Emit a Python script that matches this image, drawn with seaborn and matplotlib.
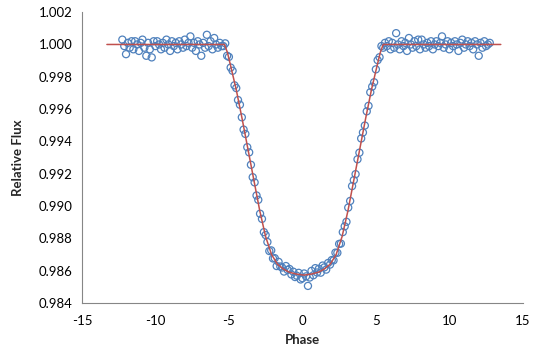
import matplotlib
matplotlib.use("Agg")
import matplotlib.pyplot as plt
import seaborn as sns
import pandas as pd

# ---- data ----
phase_left = [-12.25, -12.12, -12.0, -11.88, -11.75, -11.62, -11.5, -11.38, -11.25, -11.12,
              -11.0, -10.88, -10.75, -10.62, -10.5, -10.38, -10.25, -10.12, -10.0, -9.88,
              -9.75, -9.62, -9.5, -9.38, -9.25, -9.12, -9.0, -8.88, -8.75, -8.62,
              -8.5, -8.38, -8.25, -8.12, -8.0, -7.88, -7.75, -7.62, -7.5, -7.38,
              -7.25, -7.12, -7.0, -6.88, -6.75, -6.62, -6.5, -6.38, -6.25, -6.12,
              -6.0, -5.88, -5.75, -5.62, -5.5]
flux_left = [1.0003, 0.9999, 0.9994, 1.0001, 0.9998, 1.0002, 0.9997, 1.0002, 1.0000, 0.9996,
             1.0001, 1.0003, 0.9998, 0.9993, 1.0001, 0.9997, 0.9992, 1.0002, 0.9999, 1.0002,
             1.0000, 0.9997, 1.0001, 0.9998, 1.0003, 1.0000, 0.9996, 1.0002, 0.9999, 1.0001,
             0.9997, 1.0002, 1.0000, 0.9998, 1.0003, 0.9999, 1.0001, 1.0005, 0.9998, 1.0001,
             0.9996, 1.0002, 1.0000, 0.9993, 1.0001, 0.9998, 1.0006, 0.9999, 1.0002, 0.9997,
             1.0004, 1.0000, 0.9998, 1.0001, 0.9999]

phase_mid = [-5.38, -5.25, -5.12, -5.0, -4.88, -4.75, -4.62, -4.5, -4.38, -4.25,
             -4.12, -4.0, -3.88, -3.75, -3.62, -3.5, -3.38, -3.25, -3.12, -3.0,
             -2.88, -2.75, -2.62, -2.5, -2.38, -2.25, -2.12, -2.0, -1.88, -1.75,
             -1.62, -1.5, -1.38, -1.25, -1.12, -1.0, -0.88, -0.75, -0.62, -0.5,
             -0.38, -0.25, -0.12, 0.0, 0.12, 0.25, 0.38, 0.5, 0.62, 0.75,
             0.88, 1.0, 1.12, 1.25, 1.38, 1.5, 1.62, 1.75, 1.88, 2.0,
             2.12, 2.25, 2.38, 2.5, 2.62, 2.75, 2.88, 3.0, 3.12, 3.25,
             3.38, 3.5, 3.62, 3.75, 3.88, 4.0, 4.12, 4.25, 4.38, 4.5,
             4.62, 4.75, 4.88, 5.0, 5.12, 5.25, 5.38, 5.5, 5.62]
flux_mid = [0.99990, 1.00007, 0.99930, 0.99923, 0.99857, 0.99837, 0.99747, 0.99730, 0.99656, 0.99627,
            0.99549, 0.99473, 0.99446, 0.99364, 0.99332, 0.99255, 0.99178, 0.99146, 0.99065, 0.99038,
            0.98952, 0.98920, 0.98838, 0.98820, 0.98777, 0.98721, 0.98725, 0.98675, 0.98677, 0.98628,
            0.98654, 0.98625, 0.98619, 0.98594, 0.98628, 0.98604, 0.98610, 0.98576, 0.98593, 0.98560,
            0.98568, 0.98586, 0.98545, 0.98553, 0.98582, 0.98564, 0.98505, 0.98557, 0.98598, 0.98571,
            0.98615, 0.98588, 0.98611, 0.98587, 0.98631, 0.98620, 0.98606, 0.98647, 0.98637, 0.98665,
            0.98663, 0.98711, 0.98710, 0.98765, 0.98767, 0.98838, 0.98874, 0.98902, 0.98990, 0.99031,
            0.99123, 0.99160, 0.99197, 0.99289, 0.99330, 0.99418, 0.99455, 0.99498, 0.99586, 0.99620,
            0.99704, 0.99739, 0.99766, 0.99846, 0.99903, 0.99921, 0.99990, 0.99980, 1.00010]

phase_right = [5.75, 5.88, 6.0, 6.12, 6.25, 6.38, 6.5, 6.62, 6.75, 6.88,
               7.0, 7.12, 7.25, 7.38, 7.5, 7.62, 7.75, 7.88, 8.0, 8.12,
               8.25, 8.38, 8.5, 8.62, 8.75, 8.88, 9.0, 9.12, 9.25, 9.38,
               9.5, 9.62, 9.75, 9.88, 10.0, 10.12, 10.25, 10.38, 10.5, 10.62,
               10.75, 10.88, 11.0, 11.12, 11.25, 11.38, 11.5, 11.62, 11.75, 11.88,
               12.0, 12.12, 12.25, 12.38, 12.5, 12.62, 12.75]
flux_right = [0.9999, 1.0002, 0.9997, 1.0001, 0.9998, 1.0007, 1.0000, 0.9997, 1.0002, 0.9999,
              1.0001, 0.9996, 1.0004, 1.0000, 0.9998, 1.0002, 0.9999, 1.0003, 0.9997, 1.0003,
              1.0000, 0.9998, 1.0001, 0.9999, 1.0002, 0.9997, 1.0000, 1.0002, 0.9999, 1.0001,
              1.0005, 0.9998, 1.0000, 1.0002, 0.9997, 1.0001, 0.9999, 1.0002, 1.0000, 0.9996,
              1.0001, 1.0003, 0.9998, 1.0000, 1.0002, 0.9999, 1.0001, 0.9997, 1.0002, 1.0000,
              0.9993, 1.0001, 0.9998, 1.0002, 0.9999, 1.0000, 1.0001]

model_phase = [-13.3, -5.3, -5.1, -4.9, -4.5, -4.1, -3.7, -3.3, -2.9, -2.5, -2.1, -1.7, -1.3,
               -0.9, -0.4, 0.1, 0.6, 1.1, 1.5, 1.9, 2.3, 2.7, 3.1, 3.5, 3.9, 4.3, 4.7,
               5.1, 5.3, 5.5, 13.5]
model_flux = [1.0, 1.0, 0.99950, 0.99875, 0.99720, 0.99540, 0.99350, 0.99160, 0.98970, 0.98810,
              0.98700, 0.98640, 0.98610, 0.98590, 0.98578, 0.98572, 0.98578, 0.98590, 0.98610,
              0.98640, 0.98700, 0.98810, 0.98970, 0.99160, 0.99350, 0.99540, 0.99720, 0.99875,
              0.99950, 1.0, 1.0]

x_ticks = [-15, -10, -5, 0, 5, 10, 15]
y_ticks = [0.984, 0.986, 0.988, 0.990, 0.992, 0.994, 0.996, 0.998, 1.000, 1.002]

obs = pd.DataFrame({"Phase": phase_left + phase_mid + phase_right,
                    "Flux": flux_left + flux_mid + flux_right})
model = pd.DataFrame({"Phase": model_phase, "Flux": model_flux})

sns.set_style("white")
plt.rcParams["font.family"] = ["Lato", "DejaVu Sans"]

fig = plt.figure(figsize=(5.39, 3.58), dpi=100)
ax = fig.add_axes([0.152, 0.154, 0.818, 0.812])

sns.scatterplot(data=obs, x="Phase", y="Flux", ax=ax, marker="o", s=26,
                facecolors="none", edgecolor="#4F81BD", linewidth=0.9, zorder=2)
sns.lineplot(data=model, x="Phase", y="Flux", ax=ax, color="#C0504D",
             linewidth=1.1, zorder=3, sort=False, estimator=None)

ax.set_xlim(-15, 15)
ax.set_ylim(0.984, 1.002)
ax.set_xticks(x_ticks)
ax.set_xticklabels([str(t) for t in x_ticks])
ax.set_yticks(y_ticks)
ax.set_yticklabels([f"{t:.3f}" for t in y_ticks])

for side in ["top", "right"]:
    ax.spines[side].set_visible(False)
for side in ["left", "bottom"]:
    ax.spines[side].set_color("#868686")
    ax.spines[side].set_linewidth(0.8)
ax.tick_params(axis="both", direction="out", length=4, width=0.8, color="#868686",
               labelsize=9.5, labelcolor="#000000", pad=3)
ax.tick_params(axis="x", pad=5)

ax.set_xlabel("Phase", fontsize=9.5, fontweight="bold", labelpad=5)
ax.set_ylabel("Relative Flux", fontsize=9.5, fontweight="bold", labelpad=10)

fig.savefig("out.png", dpi=100)
